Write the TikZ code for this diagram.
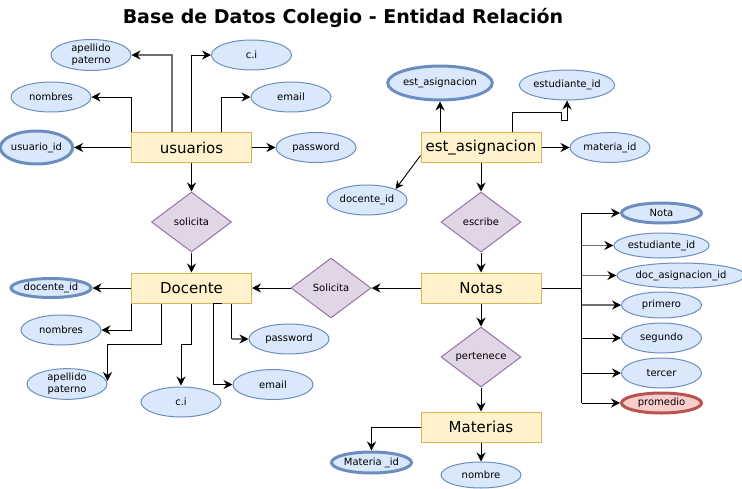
\documentclass[tikz,border=0pt]{standalone}
\usepackage{fontspec}
\setmainfont{DejaVu Sans}
\usetikzlibrary{shapes.geometric,arrows.meta}
\definecolor{entfill}{HTML}{FFF2CC}
\definecolor{entdraw}{HTML}{D6B656}
\definecolor{attfill}{HTML}{DAE8FC}
\definecolor{attdraw}{HTML}{6C8EBF}
\definecolor{relfill}{HTML}{E1D5E7}
\definecolor{reldraw}{HTML}{9673A6}
\definecolor{redfill}{HTML}{F8CECC}
\definecolor{reddraw}{HTML}{B85450}
\definecolor{grayline}{HTML}{707070}
\tikzset{
  entity/.style={rectangle, fill=entfill, draw=entdraw, line width=1pt, minimum width=120pt, minimum height=30pt, inner sep=0pt, font=\fontsize{15}{18}\selectfont},
  attr/.style={ellipse, fill=attfill, draw=attdraw, line width=1pt, minimum width=80pt, minimum height=30pt, inner sep=0pt, font=\fontsize{10}{12}\selectfont, align=center},
  keyattr/.style={attr, line width=3pt},
  rel/.style={diamond, fill=relfill, draw=reldraw, line width=1pt, minimum width=80pt, minimum height=60pt, inner sep=0pt, font=\fontsize{10}{12}\selectfont},
  arr/.style={line width=1pt, -{Stealth[length=9pt,width=9pt,inset=3pt,color=black]}},
  garr/.style={arr, draw=grayline, line width=1.4pt},
  ln/.style={line width=1pt},
}
\begin{document}
\begin{tikzpicture}[x=1pt,y=-1pt]
\useasboundingbox (0,0) rectangle (742,488);
% title
\node[font=\fontsize{19}{22}\selectfont\bfseries, anchor=base] (title) at (343,23) {Base de Datos Colegio - Entidad Relación};
% entities
\node[entity] (usu) at (191.5,147.5) {usuarios};
\node[entity] (ea) at (481,147.5) {est\_asignacion};
\node[entity] (doc) at (191.5,288) {Docente};
\node[entity] (no) at (481,288) {Notas};
\node[entity] (mat) at (481,427) {Materias};
% relations
\node[rel] (sol1) at (191.5,222) {solicita};
\node[rel] (esc) at (481,222) {escribe};
\node[rel] (sol2) at (331,288) {Solicita};
\node[rel] (per) at (481,357) {pertenece};
% usuarios attributes
\node[attr, minimum height=31pt] (ape1) at (91,55) {apellido\\paterno};
\node[attr] (ci1) at (251.5,55) {c.i};
\node[attr] (nom1) at (51,97) {nombres};
\node[attr] (em1) at (291,97) {email};
\node[keyattr, minimum width=70pt, minimum height=33pt] (uid) at (36.5,147.5) {usuario\_id};
\node[attr] (pw1) at (316,147.5) {password};
% est_asignacion attributes
\node[keyattr, minimum width=102pt, minimum height=34pt] (eaid) at (440,83) {est\_asignacion};
\node[attr, minimum width=91pt] (esid1) at (567,85) {estudiante\_id};
\node[attr] (maid) at (610,147.5) {materia\_id};
\node[attr] (did1) at (367,200) {docente\_id};
% Notas attributes
\node[keyattr, minimum height=20pt] (nota) at (661.5,213) {Nota};
\node[attr, minimum height=25pt] (esid2) at (661.5,245.5) {estudiante\_id};
\node[attr, minimum width=120pt, minimum height=25pt] (dai) at (681,275.5) {doc\_asignacion\_id};
\node[attr, minimum height=26pt] (pri) at (661.5,305) {primero};
\node[attr] (seg) at (661.5,338) {segundo};
\node[attr] (ter) at (661.5,373) {tercer};
\node[keyattr, fill=redfill, draw=reddraw, minimum height=20pt] (prom) at (661.5,403) {promedio};
% Docente attributes
\node[keyattr, minimum height=19pt] (did2) at (51,288) {docente\_id};
\node[attr] (nom2) at (61,330) {nombres};
\node[attr] (ape2) at (67,384) {apellido\\paterno};
\node[attr] (ci2) at (181,402) {c.i};
\node[attr] (em2) at (273,384.5) {email};
\node[attr] (pw2) at (289,339) {password};
% Materias attributes
\node[keyattr, minimum height=21pt] (mid) at (371.5,462.5) {Materia \_id};
\node[attr, minimum height=26pt] (mnom) at (481,475) {nombre};

% usuarios connectors
\draw[garr] ([xshift=-19.5pt]usu.north) |- (ape1.east);
\draw[arr] (usu.north) |- (ci1.west);
\draw[arr] (usu.north west) |- (nom1.east);
\draw[arr] ([xshift=30pt]usu.north) |- (em1.west);
\draw[arr] (usu.west) -- (uid.east);
\draw[arr] (usu.east) -- (pw1.west);
\draw[arr] (usu.south) -- (sol1.north);
\draw[arr] (sol1.south) -- (doc.north);
% est_asignacion connectors
\draw[arr] ([xshift=-41pt]ea.north) -- (eaid.south);
\draw[arr] ([xshift=31pt]ea.north) -- ++(0,-20) -- ++(49,0) -- ++(0,8) -- ++(6,0) -- (esid1.south);
\draw[arr] (ea.east) -- (maid.west);
\draw[line width=0.9pt, -{Stealth[length=8pt,width=8pt,inset=2.5pt]}] ([yshift=-8pt]ea.west) -- (did1.north east);
\draw[arr] (ea.south) -- (esc.north);
\draw[arr] (esc.south) -- (no.north);
% Notas connectors
\draw[arr] (no.west) -- (sol2.east);
\draw[arr] (sol2.west) -- (doc.east);
\draw[arr] (no.south) -- (per.north);
\draw[arr] (per.south) -- (mat.north);
\draw[ln] (no.east) -- ++(40,0) coordinate (tr);
\draw[ln] (tr |- nota.west) -- (tr |- prom.west);
\draw[arr] (tr |- nota.west) -- (nota.west);
\draw[garr] (tr |- esid2.west) -- (esid2.west);
\draw[garr] (tr |- dai.west) -- (dai.west);
\draw[garr] (tr |- pri.west) -- (pri.west);
\draw[arr] (tr |- seg.west) -- (seg.west);
\draw[arr] (tr |- ter.west) -- (ter.west);
\draw[arr] (tr |- prom.west) -- (prom.west);
% Docente connectors
\draw[arr] (doc.west) -- (did2.east);
\draw[arr] (doc.south west) |- (nom2.east);
\draw[arr] ([xshift=-30pt]doc.south) -- ++(0,41) -| ([yshift=3pt]ape2.east);
\draw[arr] (doc.south) -- ++(0,41) -| ([yshift=1pt]ci2.north);
\draw[arr] ([xshift=30pt]doc.south) -- ++(-8,0) |- (em2.west);
\draw[ln] ([xshift=40pt]doc.south) -- ([xshift=40pt]doc.south |- pw2.west) coordinate (pwc);
\draw[garr] (pwc) -- (pw2.west);
% Materias connectors
\draw[arr] (mat.west) -| (mid.north);
\draw[arr] (mat.south) -- (mnom.north);
\end{tikzpicture}
\end{document}
